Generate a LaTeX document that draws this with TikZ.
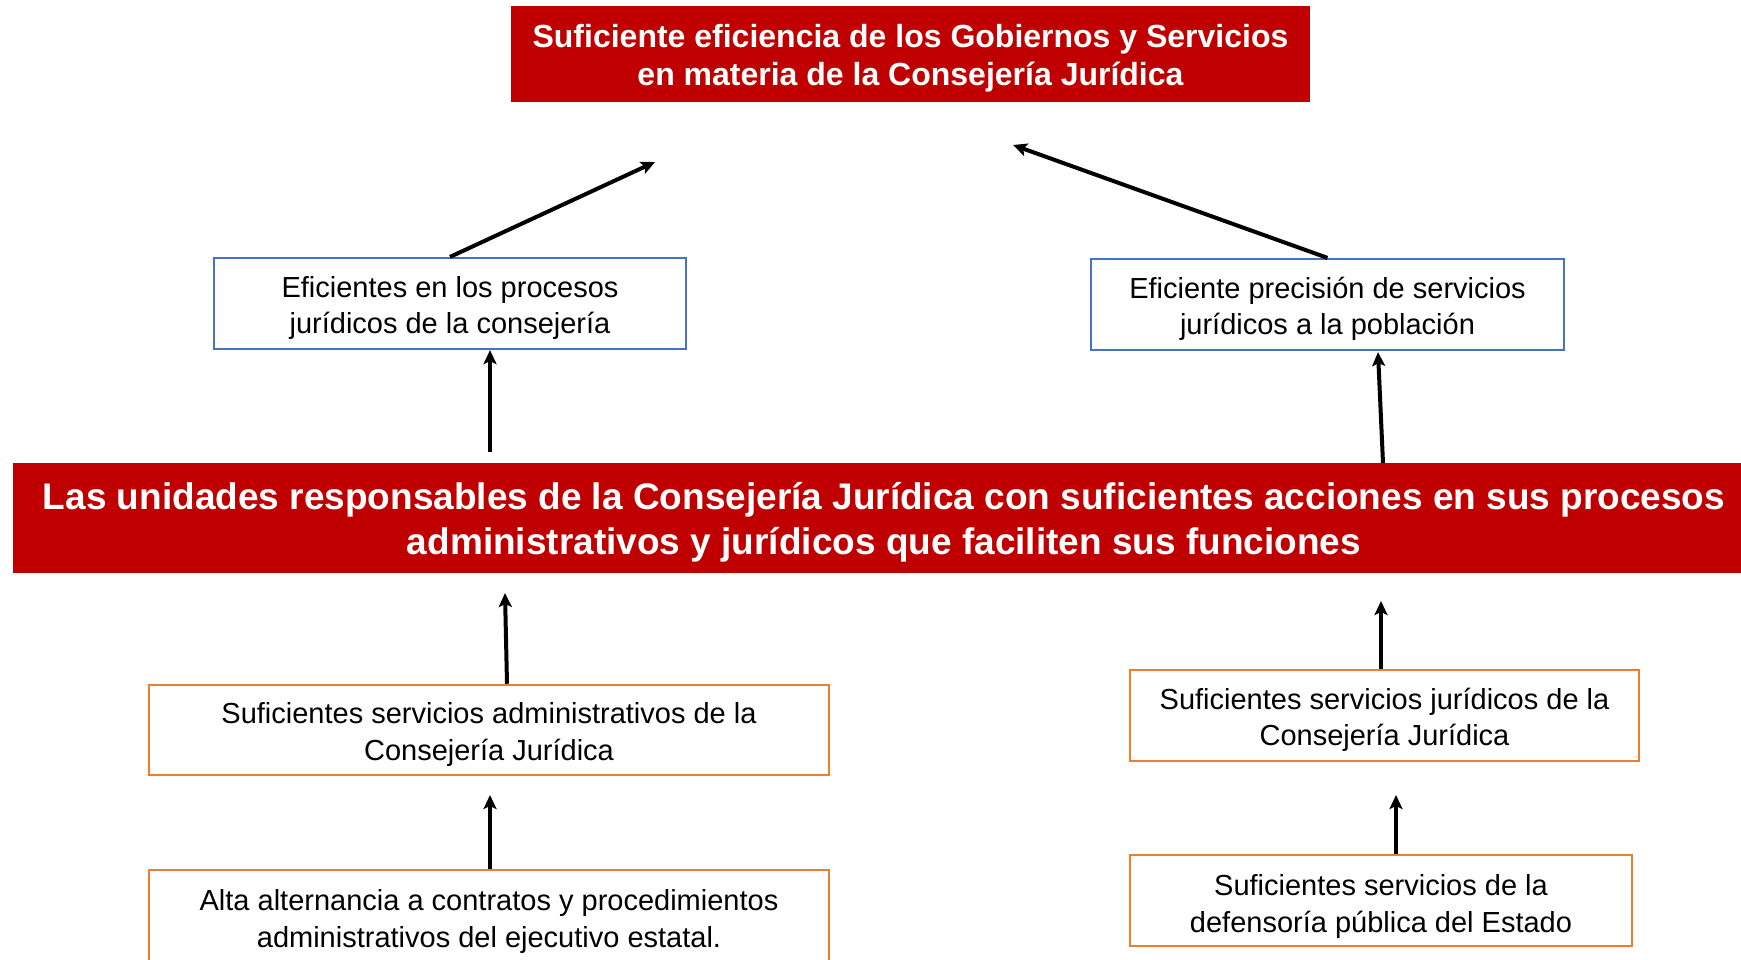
\documentclass[tikz,border=0pt]{standalone}
\usepackage{fontspec}
\setmainfont{Liberation Sans}
\usetikzlibrary{arrows.meta,calc}
\definecolor{rojo}{HTML}{C00000}
\definecolor{azul}{HTML}{4472C4}
\definecolor{naranja}{HTML}{ED7D31}
\tikzset{
  redbox/.style={fill=rojo,draw=none,inner sep=0pt},
  bluebox/.style={draw=azul,line width=2.2pt,fill=white,inner sep=0pt},
  orangebox/.style={draw=naranja,line width=2.5pt,fill=white,inner sep=0pt},
  redtxt/.style={text=white,align=center,inner sep=0pt},
  blktxt/.style={align=center,inner sep=0pt},
  arr/.style={line width=4pt,-{Stealth[length=14pt,width=13pt,inset=3pt]}},
}
\begin{document}
\begin{tikzpicture}[x=1pt,y=-1pt]
\useasboundingbox (0,0) rectangle (1741,959);
\begin{scope}
\clip (0,0) rectangle (1741,959);
% top
\node[redbox,minimum width=799pt,minimum height=96pt] (top) at (910.5,54) {};
\node[redtxt,font=\bfseries\fontsize{32}{37.7}\selectfont] (topt) at ($(top.center)+(0,4.5)$)
  {Suficiente eficiencia de los Gobiernos y Servicios\\en materia de la Consejería Jurídica};
% blue boxes
\node[bluebox,minimum width=472pt,minimum height=91pt] (lb) at (450,303.5) {};
\node[blktxt,font=\fontsize{29}{35.5}\selectfont] (lbt) at ($(lb.center)+(0,4.5)$)
  {Eficientes en los procesos\\jurídicos de la consejería};
\node[bluebox,minimum width=473pt,minimum height=91pt] (rb) at (1327.5,304.5) {};
\node[blktxt,font=\fontsize{29}{35.5}\selectfont] (rbt) at ($(rb.center)+(0,4.5)$)
  {Eficiente precisión de servicios\\jurídicos a la población};
% big red
\node[redbox,minimum width=1760pt,minimum height=110pt,anchor=north west] (mid) at (13,463) {};
\node[redtxt,font=\bfseries\fontsize{37}{45.5}\selectfont] (midt) at (884,522.5)
  {Las unidades responsables de la Consejería Jurídica con suficientes acciones en sus procesos\\administrativos y jurídicos que faciliten sus funciones};
% orange boxes
\node[orangebox,minimum width=680pt,minimum height=90pt] (lmo) at (489,730) {};
\node[blktxt,font=\fontsize{29}{36.5}\selectfont] (lmot) at ($(lmo.center)+(0,4.5)$)
  {Suficientes servicios administrativos de la\\Consejería Jurídica};
\node[orangebox,minimum width=509pt,minimum height=91pt] (rmo) at (1384.5,715.5) {};
\node[blktxt,font=\fontsize{29}{36.5}\selectfont] (rmot) at ($(rmo.center)+(0,4.5)$)
  {Suficientes servicios jurídicos de la\\Consejería Jurídica};
\node[orangebox,minimum width=680pt,minimum height=94pt] (blo) at (489,917) {};
\node[blktxt,font=\fontsize{29}{36.5}\selectfont] (blot) at ($(blo.center)+(0,4.5)$)
  {Alta alternancia a contratos y procedimientos\\administrativos del ejecutivo estatal.};
\node[orangebox,minimum width=502pt,minimum height=91pt] (bro) at (1381,900.5) {};
\node[blktxt,font=\fontsize{29}{36.5}\selectfont] (brot) at ($(bro.center)+(0,6)$)
  {Suficientes servicios de la\\defensoría pública del Estado};
% free-end coordinates
\coordinate (e1) at (655,162);
\coordinate (e2) at (1013,145);
\coordinate (s3) at (490,452);
\coordinate (e5) at (505,593);
\coordinate (e6) at (1381,601);
\coordinate (e7) at (490,795);
\coordinate (e8) at (1396,795);
% arrows
\draw[arr] (lb.north) -- (e1);
\draw[arr] (rb.north) -- (e2);
\draw[arr] (s3) -- (s3 |- lb.south);
\draw[arr] (mid.north -| 1383,0) -- ($(rb.south)+(50.5,1)$);
\draw[arr] ($(lmo.north)+(18,0)$) -- (e5);
\draw[arr] ($(rmo.north)+(-3.5,0)$) -- (e6);
\draw[arr] ($(blo.north)+(1,0)$) -- (e7);
\draw[arr] ($(bro.north)+(15,0)$) -- (e8);
\end{scope}
\end{tikzpicture}
\end{document}
